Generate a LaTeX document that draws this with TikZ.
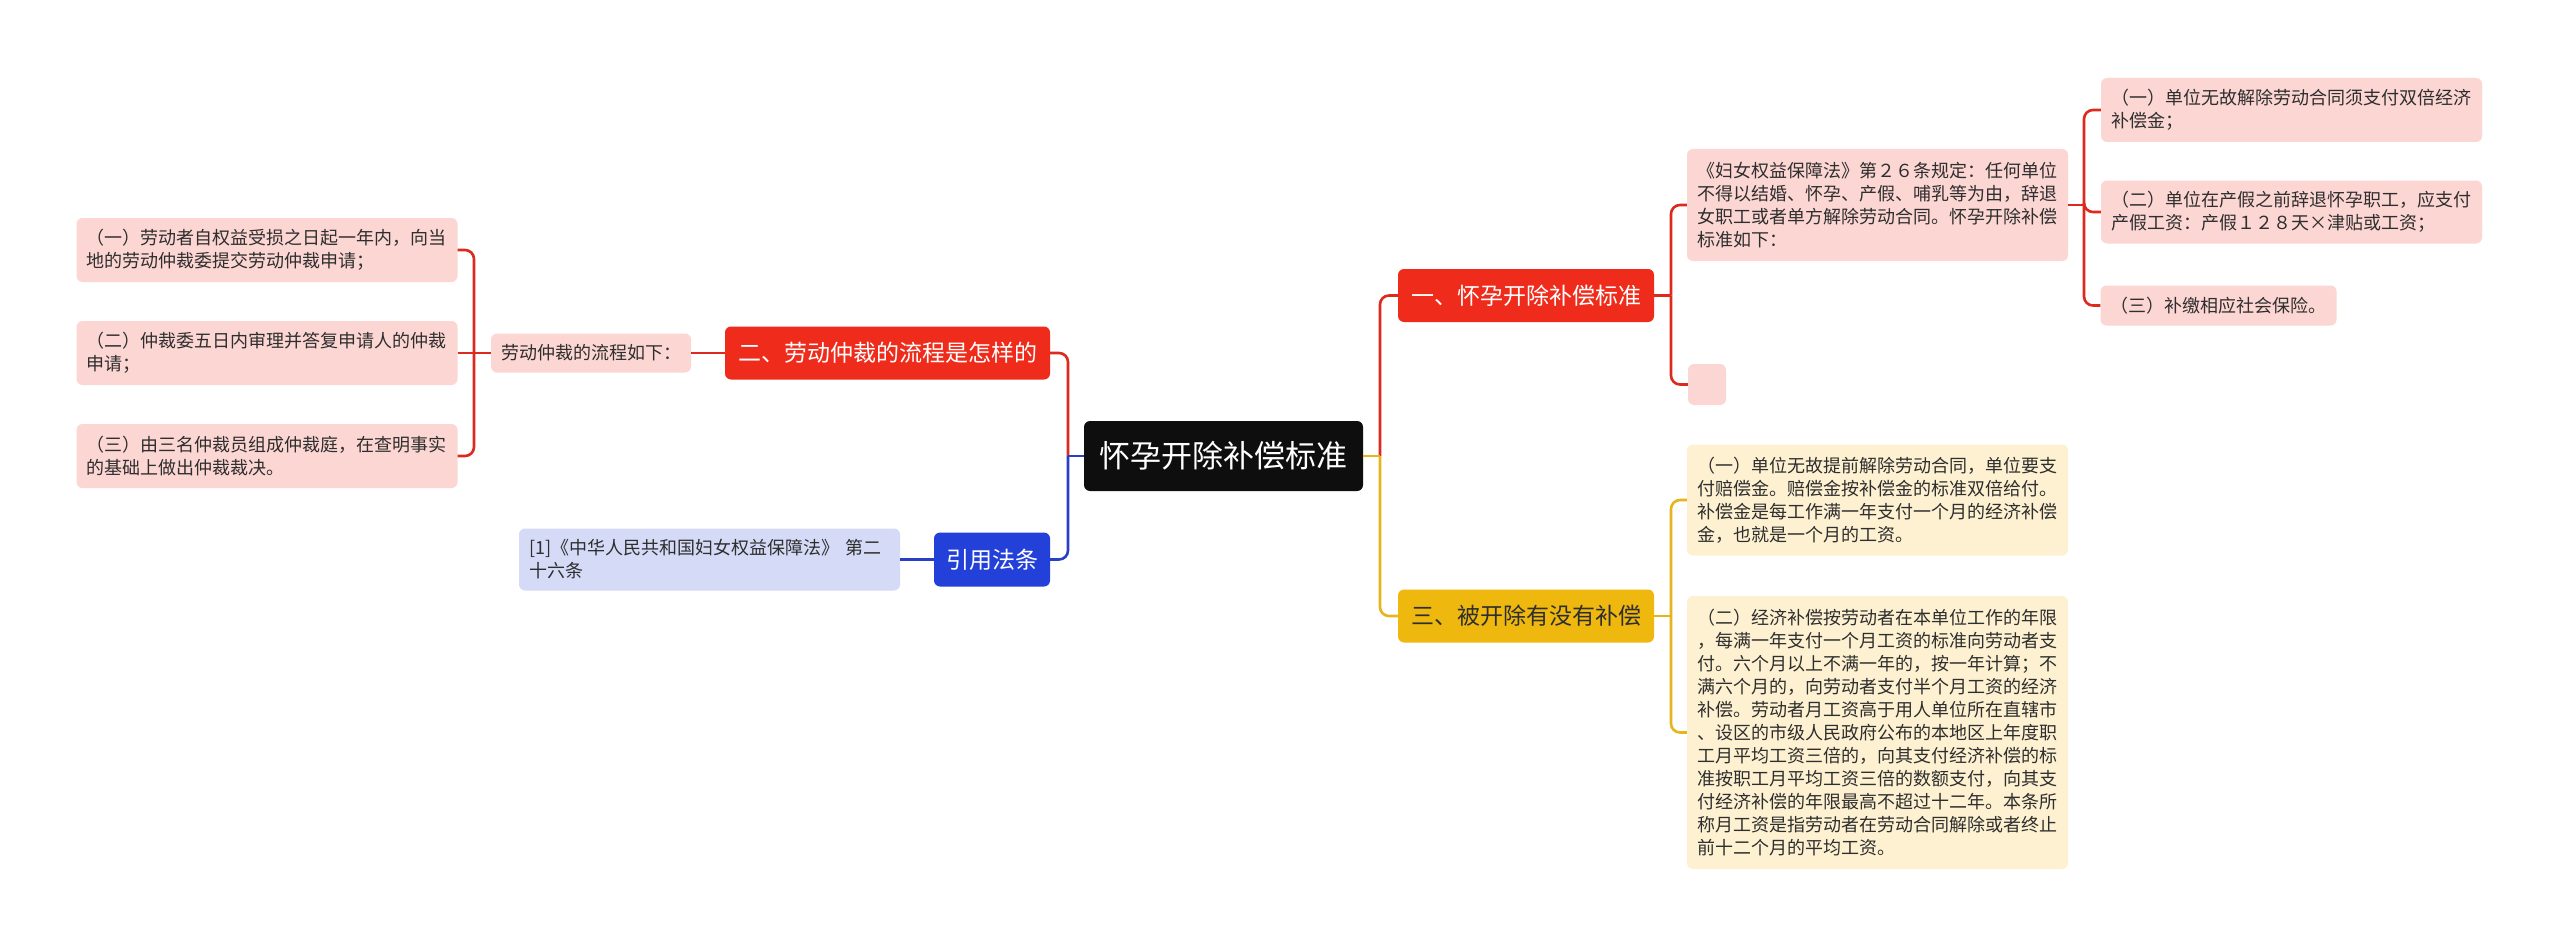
\documentclass[tikz,border=0pt]{standalone}
\usepackage{fontspec}
\setmainfont{Noto Sans CJK SC}
\definecolor{rednode}{HTML}{EF2B1B}
\definecolor{redline}{HTML}{DC2A1E}
\definecolor{pinkfill}{HTML}{FCD6D3}
\definecolor{yelnode}{HTML}{EFB80F}
\definecolor{yelline}{HTML}{E8B41C}
\definecolor{yelfill}{HTML}{FEF1D1}
\definecolor{bluenode}{HTML}{2341D8}
\definecolor{blueline}{HTML}{2A40C4}
\definecolor{lavfill}{HTML}{D5DAF7}
\definecolor{centerfill}{HTML}{0E0E0E}
\definecolor{txt}{HTML}{2E2E2E}
\begin{document}
\begin{tikzpicture}[x=1pt,y=-1pt,
  leafbox/.style={rounded corners=6pt, inner xsep=10pt, inner ysep=0pt,
    font=\fontsize{18}{23}\selectfont, text=txt, align=left, text width=361pt},
  pinkleaf/.style={leafbox, fill=pinkfill},
  yelleaf/.style={leafbox, fill=yelfill},
  mainbox/.style={rounded corners=6pt, inner sep=0pt, font=\fontsize{23}{28}\selectfont, align=center},
  conn/.style={line width=2.6pt},
  rc/.style={rounded corners=9pt}
]
\useasboundingbox (0,0) rectangle (2560,947);
\fill[white] (0,0) rectangle (2560,947);

% centre
\node[rounded corners=6pt, inner sep=0pt, fill=centerfill, text=white,
  font=\fontsize{31}{36}\selectfont, minimum width=279pt, minimum height=70pt] (c) at (1223.5,456) {怀孕开除补偿标准};

% left side
\node[mainbox, fill=rednode, text=white, minimum width=325pt, minimum height=53pt] (n2) at (887.5,353) {二、劳动仲裁的流程是怎样的};
\node[mainbox, fill=bluenode, text=white, minimum width=116pt, minimum height=54pt] (n4) at (992,559.5) {引用法条};
\node[rounded corners=6pt, inner sep=0pt, fill=pinkfill, text=txt, font=\fontsize{18}{23}\selectfont,
  minimum width=200pt, minimum height=39pt] (lab) at (591,353) {劳动仲裁的流程如下：};
\node[pinkleaf, minimum height=64pt] (L1) at (267,250) {（一）劳动者自权益受损之日起一年内，向当\\地的劳动仲裁委提交劳动仲裁申请；};
\node[pinkleaf, minimum height=64pt] (L2) at (267,353) {（二）仲裁委五日内审理并答复申请人的仲裁\\申请；};
\node[pinkleaf, minimum height=64pt] (L3) at (267,456) {（三）由三名仲裁员组成仲裁庭，在查明事实\\的基础上做出仲裁裁决。};
\node[leafbox, fill=lavfill, minimum height=62pt] (cite) at (709.5,559.5) {[1]《中华人民共和国妇女权益保障法》 第二\\十六条};

% right side
\node[mainbox, fill=rednode, text=white, minimum width=256pt, minimum height=53pt] (n1) at (1526,295.5) {一、怀孕开除补偿标准};
\node[mainbox, fill=yelnode, text=txt, minimum width=256pt, minimum height=53pt] (n3) at (1526,616) {三、被开除有没有补偿};
\node[pinkleaf, minimum height=112pt] (law) at (1877.5,205) {《妇女权益保障法》第２６条规定：任何单位\\不得以结婚、怀孕、产假、哺乳等为由，辞退\\女职工或者单方解除劳动合同。怀孕开除补偿\\标准如下：};
\node[rounded corners=6pt, inner sep=0pt, fill=pinkfill, minimum width=38pt, minimum height=41pt] (empty) at (1707,384.5) {};
\node[pinkleaf, minimum height=64pt] (R1) at (2291.5,110) {（一）单位无故解除劳动合同须支付双倍经济\\补偿金；};
\node[pinkleaf, minimum height=63pt] (R2) at (2291.5,212) {（二）单位在产假之前辞退怀孕职工，应支付\\产假工资：产假１２８天×津贴或工资；};
\node[rounded corners=6pt, inner xsep=10pt, inner ysep=0pt, fill=pinkfill, text=txt, font=\fontsize{18}{23}\selectfont,
  minimum width=235pt, minimum height=40pt] (R3) at (2218.5,305.5) {（三）补缴相应社会保险。};
\node[yelleaf, minimum height=111pt] (Y1) at (1877.5,500) {（一）单位无故提前解除劳动合同，单位要支\\付赔偿金。赔偿金按补偿金的标准双倍给付。\\补偿金是每工作满一年支付一个月的经济补偿\\金，也就是一个月的工资。};
\node[yelleaf, minimum height=273pt] (Y2) at (1877.5,732.5) {（二）经济补偿按劳动者在本单位工作的年限\\，每满一年支付一个月工资的标准向劳动者支\\付。六个月以上不满一年的，按一年计算；不\\满六个月的，向劳动者支付半个月工资的经济\\补偿。劳动者月工资高于用人单位所在直辖市\\、设区的市级人民政府公布的本地区上年度职\\工月平均工资三倍的，向其支付经济补偿的标\\准按职工月平均工资三倍的数额支付，向其支\\付经济补偿的年限最高不超过十二年。本条所\\称月工资是指劳动者在劳动合同解除或者终止\\前十二个月的平均工资。};

% junctions
\coordinate (rj) at (1380,456);
\coordinate (lj) at (1068,456);
\coordinate (lj2) at (474,353);
\coordinate (j1) at (1671,295.5);
\coordinate (j2) at (2084,205);
\coordinate (j3) at (1671,616);

% connectors
\draw[conn, redline] (c.east) -- (rj);
\draw[conn, redline, rc] (rj) |- (n1.west);
\draw[conn, yelline] (c.east) -- (rj);
\draw[conn, yelline, rc] (rj) |- (n3.west);

\draw[conn, redline] (c.west) -- (lj);
\draw[conn, redline, rc] (lj) |- (n2.east);
\draw[conn, blueline] (c.west) -- (lj);
\draw[conn, blueline, rc] (lj) |- (n4.east);

\draw[conn, redline] (n2.west) -- (lab.east);
\draw[conn, redline] (lab.west) -- (lj2);
\draw[conn, redline, rc] (lj2) |- (L1.east);
\draw[conn, redline] (lj2) -- (L2.east);
\draw[conn, redline, rc] (lj2) |- (L3.east);

\draw[conn, blueline] (n4.west) -- (cite.east);

\draw[conn, redline] (n1.east) -- (j1);
\draw[conn, redline, rc] (j1) |- (law.west);
\draw[conn, redline, rc] (j1) |- (empty.west);

\draw[conn, redline] (law.east) -- (j2);
\draw[conn, redline, rc] (j2) |- (R1.west);
\draw[conn, redline, rc] (j2) |- (R2.west);
\draw[conn, redline, rc] (j2) |- (R3.west);

\draw[conn, yelline] (n3.east) -- (j3);
\draw[conn, yelline, rc] (j3) |- (Y1.west);
\draw[conn, yelline, rc] (j3) |- (Y2.west);
\end{tikzpicture}
\end{document}
